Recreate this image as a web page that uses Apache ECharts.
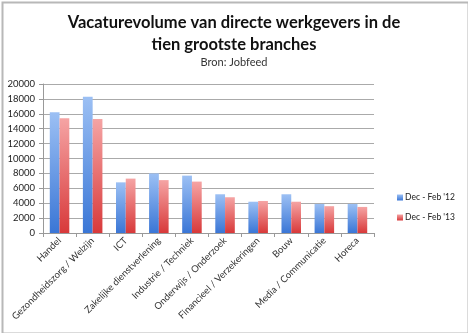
<!DOCTYPE html>
<html><head><meta charset="utf-8">
<script src="https://cdn.jsdelivr.net/npm/echarts@6/dist/echarts.min.js"></script>
<style>html,body{margin:0;padding:0;background:#fff}#c{width:468px;height:333px}</style>
</head><body><div id="c"></div>
<script>
const categories = ['Handel','Gezondheidszorg / Welzijn','ICT','Zakelijke dienstverlening','Industrie / Techniek','Onderwijs / Onderzoek','Financieel / Verzekeringen','Bouw','Media / Communicatie','Horeca'];
const seriesNames = ["Dec - Feb '12", "Dec - Feb '13"];
const values12 = [16200, 18300, 6800, 8000, 7700, 5200, 4200, 5200, 3900, 3900];
const values13 = [15400, 15300, 7300, 7100, 6900, 4800, 4300, 4200, 3600, 3500];
const yTicks = [0, 2000, 4000, 6000, 8000, 10000, 12000, 14000, 16000, 18000, 20000];

const grad = (top, bot) => new echarts.graphic.LinearGradient(0,0,0,1,[{offset:0,color:top},{offset:1,color:bot}]);
const chart = echarts.init(document.getElementById('c'), null, {renderer:'canvas'});
const font = 'Lato, "Open Sans", sans-serif';
chart.setOption({
  animation:false,
  textStyle:{fontFamily:font},
  graphic:[{type:'rect',left:0,top:0,shape:{x:1,y:1,width:466,height:331},style:{fill:'none',stroke:'#b8b8b8',lineWidth:2}}],
  title:[
    {text:'Vacaturevolume van directe werkgevers in de\ntien grootste branches', left:'center', top:12, padding:0,
     textStyle:{fontFamily:font,fontSize:16.5,fontWeight:'bold',color:'#111',lineHeight:22}},
    {text:'Bron: Jobfeed', left:'center', top:57, padding:0, textStyle:{fontFamily:font,fontSize:11,fontWeight:'normal',color:'#333'}}
  ],
  legend:{orient:'vertical', left:392, top:188, itemWidth:6, itemHeight:6, itemGap:11, icon:'rect',
    textStyle:{fontFamily:font,fontSize:8.5,color:'#222',padding:[0,0,0,-3]}, data:seriesNames},
  grid:{left:43, right:94, top:84, bottom:100, containLabel:false},
  xAxis:{type:'category', data:categories,
    axisLine:{lineStyle:{color:'#999'}}, axisTick:{show:true,length:4,lineStyle:{color:'#999'}},
    axisLabel:{rotate:45, fontSize:9.5, color:'#333', margin:6, interval:0}},
  yAxis:{type:'value', min:yTicks[0], max:yTicks[yTicks.length-1], interval:2000,
    axisLine:{show:true,lineStyle:{color:'#999'}}, axisTick:{show:true,length:4,lineStyle:{color:'#999'}},
    splitLine:{lineStyle:{color:'#aaaaaa',width:1}},
    axisLabel:{fontSize:9.5, color:'#222', margin:8, formatter:v=>String(v)}},
  series:[
    {name:seriesNames[0], type:'bar', data:values12, barGap:'0%', barCategoryGap:'41%',
     itemStyle:{color:grad('#9cc0f4','#3a76d6')}},
    {name:seriesNames[1], type:'bar', data:values13, barGap:'0%', barCategoryGap:'41%',
     itemStyle:{color:grad('#f5a4a4','#d8393a')}}
  ]
});
</script></body></html>
